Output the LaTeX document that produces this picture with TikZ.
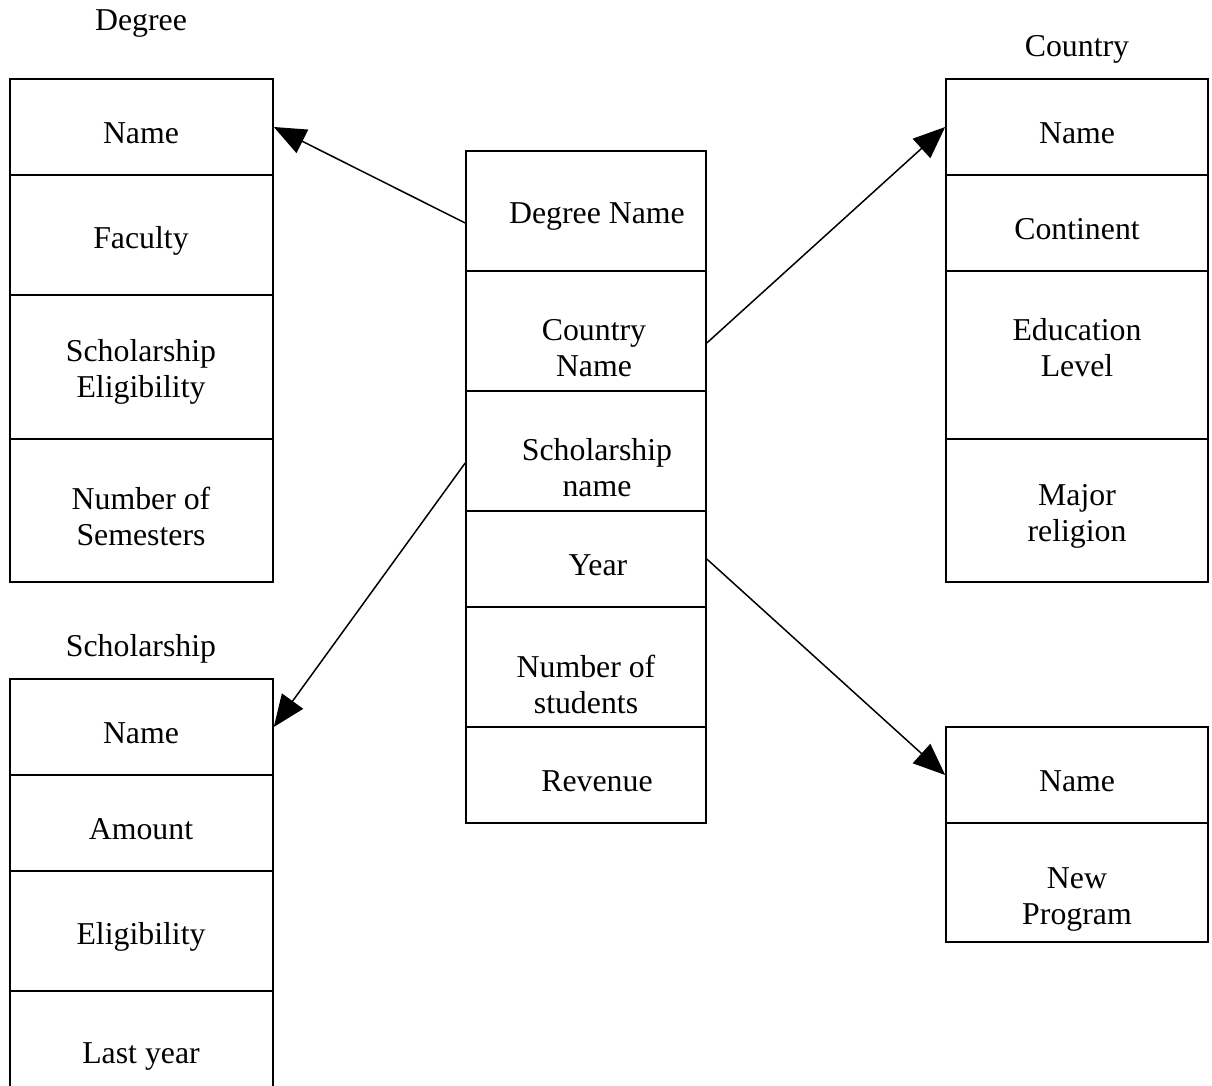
\documentclass[tikz,border=0pt]{standalone}
\usepackage{fontspec}
\setmainfont{Liberation Serif}
\usetikzlibrary{arrows.meta}
\begin{document}
\begin{tikzpicture}[x=0.5pt,y=-0.5pt,
  cell/.style={draw=black, line width=0.8pt, rectangle, inner sep=0pt},
  txt/.style={align=center, inner sep=0pt, yshift=-2pt, font=\fontsize{15.9}{18}\selectfont},
  arr/.style={draw=black, line width=0.75pt, -{Triangle[length=16pt,width=13pt]}}]
\clip (0,0) rectangle (1212,1086);

% Degree table
\node[txt] (dt) at (141,20) {Degree};
\node[cell, minimum width=131.5pt, minimum height=48pt] (d1) at (141.5,127) {};
\node[cell, minimum width=131.5pt, minimum height=60pt] (d2) at (141.5,235) {};
\node[cell, minimum width=131.5pt, minimum height=72pt] (d3) at (141.5,367) {};
\node[cell, minimum width=131.5pt, minimum height=71.5pt] (d4) at (141.5,510.5) {};
\node[txt] (d1t) at (141,129) {Name};
\node[txt] (d2t) at (141,237) {Faculty};
\node[txt] (d3t) at (141,368) {Scholarship\\Eligibility};
\node[txt] (d4t) at (141,512) {Number of\\Semesters};

% Scholarship table
\node[txt] (st) at (141,645) {Scholarship};
\node[cell, minimum width=131.5pt, minimum height=48pt] (s1) at (141.5,727) {};
\node[cell, minimum width=131.5pt, minimum height=48pt] (s2) at (141.5,823) {};
\node[cell, minimum width=131.5pt, minimum height=60pt] (s3) at (141.5,931) {};
\node[cell, minimum width=131.5pt, minimum height=62pt] (s4) at (141.5,1053) {};
\node[txt] (s1t) at (141,729) {Name};
\node[txt] (s2t) at (141,825) {Amount};
\node[txt] (s3t) at (141,933) {Eligibility};
\node[txt] (s4t) at (141,1053) {Last year};

% Central fact table
\node[cell, minimum width=120pt, minimum height=60pt] (c1) at (586,211) {};
\node[cell, minimum width=120pt, minimum height=60pt] (c2) at (586,331) {};
\node[cell, minimum width=120pt, minimum height=60pt] (c3) at (586,451) {};
\node[cell, minimum width=120pt, minimum height=48pt] (c4) at (586,559) {};
\node[cell, minimum width=120pt, minimum height=60pt] (c5) at (586,667) {};
\node[cell, minimum width=120pt, minimum height=48pt] (c6) at (586,775) {};
\node[txt] (c1t) at (597,213) {Degree Name};
\node[txt] (c2t) at (594,344) {Country\\Name};
\node[txt] (c3t) at (597,464) {Scholarship\\name};
\node[txt] (c4t) at (598,561) {Year};
\node[txt] (c5t) at (586,680) {Number of\\students};
\node[txt] (c6t) at (597,777) {Revenue};

% Country table
\node[txt] (kt) at (1077,45) {Country};
\node[cell, minimum width=131pt, minimum height=48pt] (k1) at (1077,127) {};
\node[cell, minimum width=131pt, minimum height=48pt] (k2) at (1077,223) {};
\node[cell, minimum width=131pt, minimum height=84pt] (k3) at (1077,355) {};
\node[cell, minimum width=131pt, minimum height=71.5pt] (k4) at (1077,510.5) {};
\node[txt] (k1t) at (1077,129) {Name};
\node[txt] (k2t) at (1077,225) {Continent};
\node[txt] (k3t) at (1077,344) {Education\\Level};
\node[txt] (k4t) at (1077,512) {Major\\religion};

% Program table
\node[cell, minimum width=131pt, minimum height=48pt] (n1) at (1077,775) {};
\node[cell, minimum width=131pt, minimum height=59.5pt] (n2) at (1077,882.5) {};
\node[txt] (n1t) at (1077,777) {Name};
\node[txt] (n2t) at (1077,896) {New\\Program};

% Links from the central table
\draw[arr] ([yshift=-6pt]c1.west) -- (d1.east);
\draw[arr] ([yshift=-6pt]c2.east) -- (k1.west);
\draw[arr] ([yshift=-6pt]c3.west) -- (s1.east);
\draw[arr] (c4.east) -- (n1.west);
\end{tikzpicture}
\end{document}
